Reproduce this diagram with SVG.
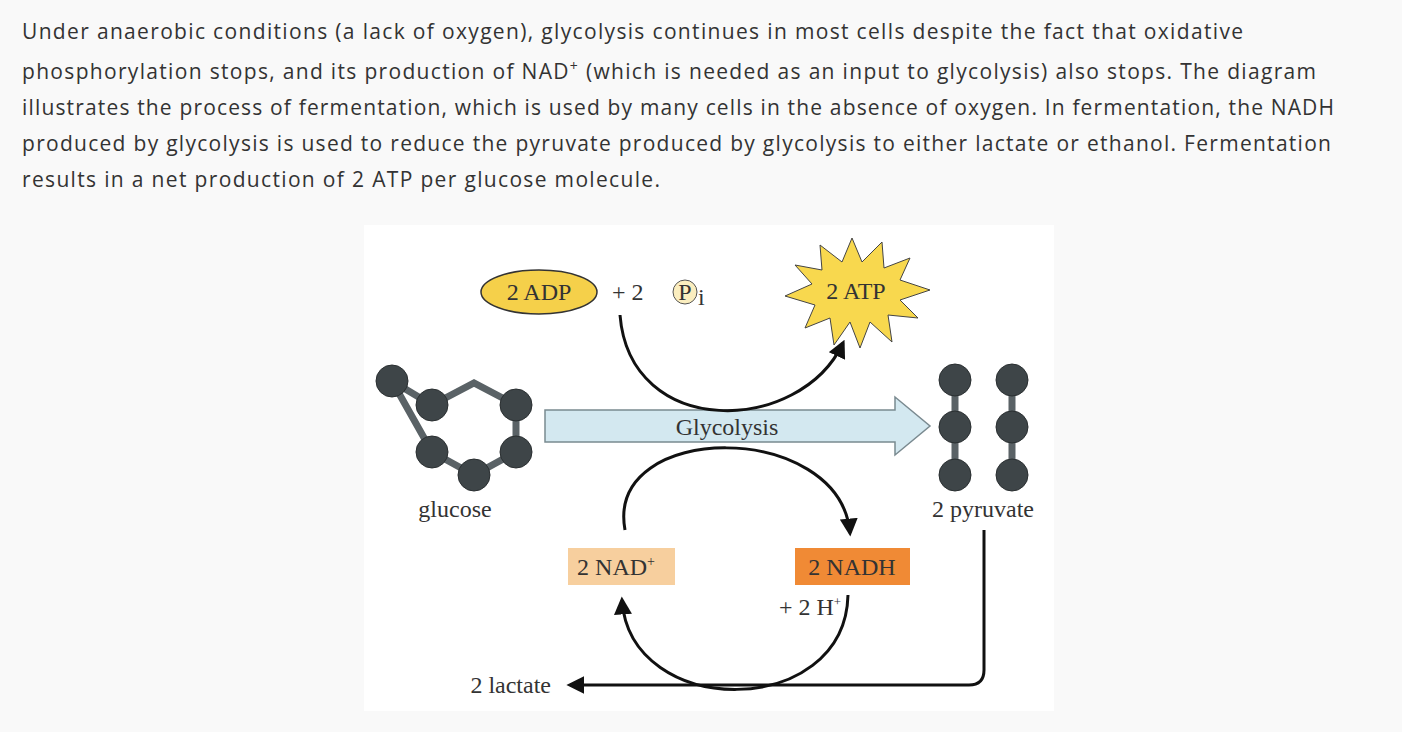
<svg xmlns="http://www.w3.org/2000/svg" width="1402" height="732" viewBox="0 0 1402 732">
<defs>
<style>
.p{font-family:"Open Sans","Liberation Sans",sans-serif;font-size:21px;fill:#333}
.s{font-family:"Liberation Serif",serif;font-size:24px;fill:#333}
.ball{fill:#3e4548;stroke:#2a2f31;stroke-width:1}
.bond{stroke:#5a6266;stroke-width:7;fill:none}
.c{fill:none;stroke:#111;stroke-width:3}
</style>
<marker id="ah" viewBox="0 0 10 10" refX="8" refY="5" markerWidth="6" markerHeight="6" orient="auto" markerUnits="strokeWidth"><path d="M0,0 L10,5 L0,10 z" fill="#111"/></marker>
<radialGradient id="bg" cx="35%" cy="30%" r="70%"><stop offset="0" stop-color="#7a8286"/><stop offset="1" stop-color="#2a3033"/></radialGradient>
</defs>
<rect width="1402" height="732" fill="#f9f9f9"/>
<g id="text">
<text class="p" x="22" y="39" textLength="1221">Under anaerobic conditions (a lack of oxygen), glycolysis continues in most cells despite the fact that oxidative</text>
<text class="p" x="22" y="79" textLength="1294">phosphorylation stops, and its production of NAD<tspan dy="-8" font-size="14">+</tspan><tspan dy="8"> (which is needed as an input to glycolysis) also stops. The diagram</tspan></text>
<text class="p" x="22" y="115" textLength="1312">illustrates the process of fermentation, which is used by many cells in the absence of oxygen. In fermentation, the NADH</text>
<text class="p" x="22" y="151" textLength="1309">produced by glycolysis is used to reduce the pyruvate produced by glycolysis to either lactate or ethanol. Fermentation</text>
<text class="p" x="22" y="187" textLength="638">results in a net production of 2 ATP per glucose molecule.</text>
</g>
<rect x="364" y="225" width="690" height="486" fill="#fff"/>
<g id="adp"><ellipse cx="539" cy="292" rx="58" ry="22" fill="#f5d04a" stroke="#333" stroke-width="1.5"/><text class="s" x="539" y="300" text-anchor="middle">2 ADP</text></g>
<g id="pi"><text class="s" x="612" y="300">+ 2</text><circle cx="685" cy="292" r="12" fill="#fbeebf" stroke="#555"/><text class="s" x="685" y="300" text-anchor="middle">P</text><text class="s" x="698" y="305" font-size="14">i</text></g>
<g id="atp"><polygon fill="#f8d84e" stroke="#444" stroke-width="1" points="930,290 900,300 918,318 888,315 892,342 870,322 860,348 850,322 834,345 830,318 805,328 815,305 785,296 812,284 795,265 822,270 820,245 842,262 852,238 862,262 882,242 884,268 910,258 900,280"/><text class="s" x="856" y="299" text-anchor="middle">2 ATP</text></g>
<g id="glycolysis"><path d="M545,410 H895 V397 L930,426 L895,455 V442 H545 Z" fill="#d3e8f0" stroke="#7a8a90" stroke-width="1.5"/><text class="s" x="727" y="435" text-anchor="middle">Glycolysis</text></g>
<g id="glucose">
<path class="bond" d="M392,381 L432,405 L474,383 L516,405 L516,452 L474,475 L432,452 Z"/>
<circle class="ball" fill="url(#bg)" cx="392" cy="381" r="16"/><circle class="ball" fill="url(#bg)" cx="432" cy="405" r="16"/><circle class="ball" fill="url(#bg)" cx="516" cy="405" r="16"/><circle class="ball" fill="url(#bg)" cx="432" cy="452" r="16"/><circle class="ball" fill="url(#bg)" cx="516" cy="452" r="16"/><circle class="ball" fill="url(#bg)" cx="474" cy="475" r="16"/>
<text class="s" x="455" y="517" text-anchor="middle">glucose</text></g>
<g id="pyruvate">
<path class="bond" d="M955,380 V475 M1012,380 V475"/>
<circle class="ball" fill="url(#bg)" cx="955" cy="380" r="16"/><circle class="ball" fill="url(#bg)" cx="955" cy="427" r="16"/><circle class="ball" fill="url(#bg)" cx="955" cy="475" r="16"/>
<circle class="ball" fill="url(#bg)" cx="1012" cy="380" r="16"/><circle class="ball" fill="url(#bg)" cx="1012" cy="427" r="16"/><circle class="ball" fill="url(#bg)" cx="1012" cy="475" r="16"/>
<text class="s" x="983" y="517" text-anchor="middle">2 pyruvate</text></g>
<g id="nad"><rect x="568" y="548" width="107" height="37" fill="#f7cf9e"/><text class="s" x="616" y="575" text-anchor="middle">2 NAD<tspan dy="-9" font-size="14">+</tspan></text></g>
<g id="nadh"><rect x="795" y="548" width="115" height="37" fill="#f08a35"/><text class="s" x="852" y="575" text-anchor="middle">2 NADH</text><text class="s" x="810" y="615" text-anchor="middle" font-size="22">+ 2 H<tspan dy="-9" font-size="13">+</tspan></text></g>
<g id="lactate"><text class="s" x="551" y="693" text-anchor="end">2 lactate</text></g>
<g id="connectors">
<path class="c" marker-end="url(#ah)" d="M620,315 C630,440 800,435 843,343"/>
<path class="c" marker-end="url(#ah)" d="M625,530 C605,420 840,420 850,533"/>
<path class="c" marker-end="url(#ah)" d="M848,595 C845,720 630,720 622,600"/>
<path class="c" marker-end="url(#ah)" d="M984,530 V670 Q984,685 969,685 H570"/>
</g>
</svg>
